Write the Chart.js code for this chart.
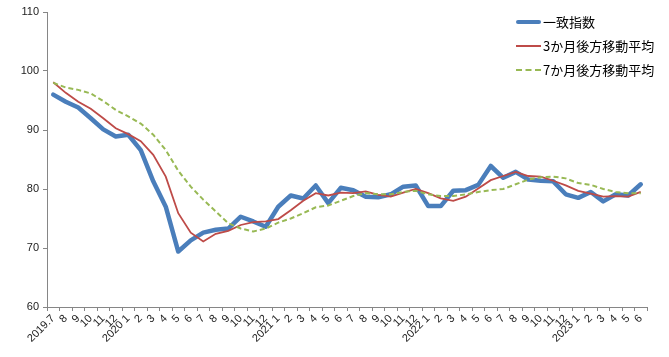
<!DOCTYPE html>
<html>
<head>
<meta charset="utf-8">
<script src="https://cdn.jsdelivr.net/npm/chart.js@4/dist/chart.umd.min.js"></script>
<style>
  html, body { margin: 0; padding: 0; background: #fff; }
  #wrap { position: relative; width: 669px; height: 357px; }
  #legend { position: absolute; left: 516px; top: 10px; font-family: "Noto Sans CJK JP", sans-serif; font-size: 13px; color: #000; }
  .row { position: relative; height: 24px; line-height: 24px; padding-left: 27px; white-space: nowrap; }
  .sw { position: absolute; left: 0; top: 12px; width: 25px; }
</style>
</head>
<body>
<div id="wrap">
  <canvas id="c" width="669" height="357"></canvas>
  <div id="legend"></div>
</div>
<script>
const categories = [
  "2019.7","8","9","10","11","12",
  "2020 1","2","3","4","5","6","7","8","9","10","11","12",
  "2021 1","2","3","4","5","6","7","8","9","10","11","12",
  "2022 1","2","3","4","5","6","7","8","9","10","11","12",
  "2023 1","2","3","4","5","6"
];
const coincidentIndex = [
  96.0, 94.8, 93.8, 92.0, 90.1, 88.9,
  89.2, 86.6, 81.3, 77.0, 69.4, 71.3, 72.6, 73.1, 73.3, 75.3, 74.5, 73.6,
  77.0, 78.9, 78.4, 80.6, 77.6, 80.2, 79.8, 78.7, 78.6, 79.1, 80.4, 80.6,
  77.1, 77.1, 79.7, 79.8, 80.7, 83.9, 81.9, 82.9, 81.6, 81.4, 81.3, 79.1,
  78.5, 79.5, 77.9, 79.1, 78.9, 80.8
];
const movingAvg3 = [
  98.1, 96.3, 94.8, 93.6, 92.0, 90.3,
  89.3, 88.1, 85.8, 82.1, 75.9, 72.6, 71.1, 72.4, 72.9, 73.9, 74.4, 74.5,
  74.9, 76.4, 78.0, 79.3, 78.9, 79.4, 79.3, 79.6, 79.0, 78.7, 79.4, 80.0,
  79.3, 78.4, 78.0, 78.7, 80.1, 81.5, 82.2, 82.9, 82.2, 82.1, 81.4, 80.6,
  79.7, 79.2, 78.7, 78.8, 78.7, 79.5
];
const movingAvg7 = [
  98.0, 97.2, 96.8, 96.2, 94.9, 93.4,
  92.3, 91.1, 89.2, 86.6, 83.1, 80.4, 78.2, 76.2, 74.2, 73.3, 72.8, 73.3,
  74.3, 75.0, 75.9, 76.9, 77.2, 78.0, 78.8, 79.3, 79.1, 79.1, 79.5, 79.7,
  79.1, 78.8, 78.8, 79.1, 79.5, 79.8, 80.0, 80.8, 81.6, 82.0, 82.1, 81.8,
  81.0, 80.7, 80.0, 79.5, 79.3, 79.3
];
const seriesNames = ["一致指数", "3か月後方移動平均", "7か月後方移動平均"];
const yTicks = [60, 70, 80, 90, 100, 110];

const colors = ["#4A7EBB", "#BE4B48", "#98B954"];

const axisColor = "#868686";
const tickFont = { family: "Liberation Sans, Arial, sans-serif", size: 11 };

new Chart(document.getElementById("c"), {
  type: "line",
  data: {
    labels: categories,
    datasets: [
      { label: seriesNames[0], data: coincidentIndex, borderColor: colors[0], borderWidth: 4.5,
        pointRadius: 0, tension: 0, borderJoinStyle: "round", borderCapStyle: "round", order: 3 },
      { label: seriesNames[1], data: movingAvg3, borderColor: colors[1], borderWidth: 1.8,
        pointRadius: 0, tension: 0, order: 2 },
      { label: seriesNames[2], data: movingAvg7, borderColor: colors[2], borderWidth: 2,
        borderDash: [5, 3], pointRadius: 0, tension: 0, order: 1 }
    ]
  },
  options: {
    responsive: false,
    animation: false,
    layout: { padding: { left: 0, right: 22, top: 12, bottom: 0 } },
    plugins: { legend: { display: false }, tooltip: { enabled: false } },
    scales: {
      x: {
        type: "category",
        offset: true,
        grid: { offset: true, drawOnChartArea: false, drawTicks: true, tickLength: 4, color: axisColor },
        border: { display: true, color: axisColor, width: 1 },
        ticks: { autoSkip: false, maxRotation: 45, minRotation: 45, color: "#222", font: tickFont, padding: 1 },
        afterFit: s => { s.height = 50; }
      },
      y: {
        min: 60, max: 110,
        afterBuildTicks: s => { s.ticks = yTicks.map(v => ({ value: v })); },
        grid: { drawOnChartArea: false, drawTicks: true, tickLength: 4, color: axisColor },
        border: { display: true, color: axisColor, width: 1 },
        ticks: { color: "#222", font: tickFont, padding: 4 },
        afterFit: s => { s.width = 47; }
      }
    }
  }
});

// legend (HTML overlay, top-right inside plot)
const lg = document.getElementById("legend");
seriesNames.forEach((name, i) => {
  const row = document.createElement("div");
  row.className = "row";
  const sw = document.createElement("div");
  sw.className = "sw";
  if (i === 0) { sw.style.borderTop = "4.5px solid " + colors[0]; sw.style.marginTop = "-2px"; sw.style.borderRadius = "2px"; }
  else if (i === 1) { sw.style.borderTop = "2px solid " + colors[1]; sw.style.marginTop = "-1px"; }
  else { sw.style.borderTop = "2px dashed " + colors[2]; sw.style.marginTop = "-1px"; }
  row.appendChild(sw);
  row.appendChild(document.createTextNode(name));
  lg.appendChild(row);
});
</script>
</body>
</html>
